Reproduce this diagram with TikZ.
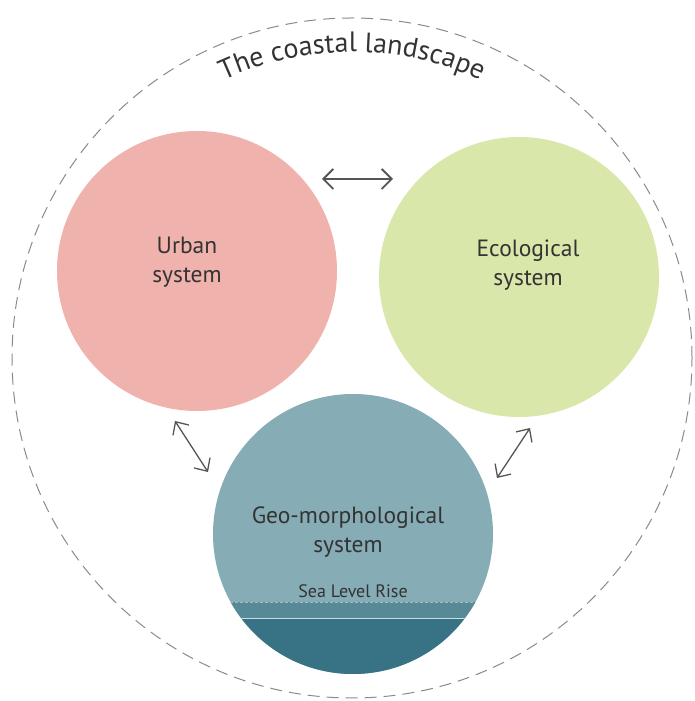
\documentclass[tikz,border=0pt]{standalone}
\usepackage{fontspec}
\setmainfont{PT Sans}
\usetikzlibrary{arrows.meta,decorations.text}
\definecolor{urbanc}{HTML}{F0B2AC}
\definecolor{ecoc}{HTML}{D9E8AA}
\definecolor{geoc}{HTML}{86ACB6}
\definecolor{seamid}{HTML}{578996}
\definecolor{seadark}{HTML}{377384}
\definecolor{txt}{HTML}{333333}
\definecolor{arrc}{HTML}{555555}
\definecolor{dashc}{HTML}{8A8A8A}
\tikzset{
  system/.style={circle, inner sep=0pt, minimum size=280pt, draw=none},
  label/.style={align=center, text=txt, font=\fontsize{23.5}{29}\selectfont},
  link/.style={arrc, line width=1.9pt, {Straight Barb[length=10pt,width=20pt]}-{Straight Barb[length=10pt,width=20pt]}},
  thinlink/.style={arrc, line width=1.3pt, {Straight Barb[length=10pt,width=19pt]}-{Straight Barb[length=10pt,width=19pt]}}
}
\begin{document}
\begin{tikzpicture}[x=1pt,y=1pt]
\useasboundingbox (0,0) rectangle (695,701);
% outer landscape circle
\draw[dashc, line width=1pt, dash pattern=on 12pt off 7pt] (352,343) circle[radius=340pt];
\path[decorate, decoration={text along path, text align=center,
  text={|\fontsize{28}{28}\selectfont\color{txt}|The coastal landscape}}]
  (352,343) ++(152:306pt) arc[start angle=152, end angle=28, radius=306pt];
% systems
\node[system, fill=urbanc] (urban) at (197,430) {};
\node[system, fill=ecoc] (eco) at (519,424) {};
\node[system, fill=geoc] (geo) at (353,167) {};
\begin{scope}
  \clip (353,167) circle[radius=140pt];
  \fill[seamid] (200,83) rectangle (510,99);
  \fill[seadark] (200,0) rectangle (510,83);
  \draw[white!70!seamid, line width=0.8pt] (200,83) -- (510,83);
  \draw[geoc!80!white, line width=0.6pt, dash pattern=on 3pt off 2pt] (200,99) -- (510,99);
\end{scope}
% labels
\node[label] (urbant) at (187,439) {Urban\\system};
\node[label] (ecot) at (528,436) {Ecological\\system};
\node[label] (geot) at (348,169) {Geo-morphological\\system};
\node[anchor=base, text=txt, font=\fontsize{18}{20}\selectfont] (slr) at (353,103) {Sea Level Rise};
% connectors
\coordinate (ue1) at (322,522);
\coordinate (ue2) at (393,522);
\coordinate (ug1) at (175,280);
\coordinate (ug2) at (208,229);
\coordinate (eg1) at (530,273);
\coordinate (eg2) at (497,223);
\draw[link] (ue1) -- (ue2);
\draw[thinlink] (ug1) -- (ug2);
\draw[thinlink] (eg1) -- (eg2);
\end{tikzpicture}
\end{document}
